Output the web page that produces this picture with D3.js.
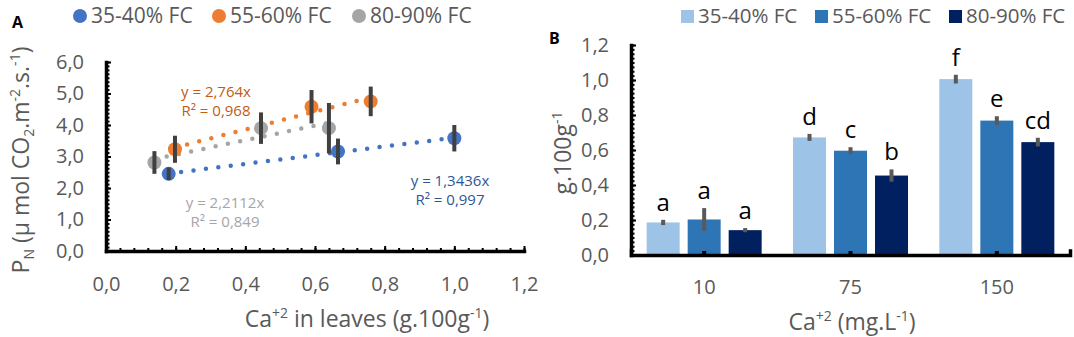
<!DOCTYPE html>
<html>
<head>
<meta charset="utf-8">
<script src="https://cdn.jsdelivr.net/npm/d3@7"></script>
<style>
  body { margin: 0; background: #fff; }
  svg { font-family: "Open Sans", sans-serif; }
</style>
</head>
<body>
<svg width="1074" height="337"></svg>
<script>
// ---- data: panel A (scatter + trend lines) ----
const seriesA = ["35-40% FC", "55-60% FC", "80-90% FC"];
const colorsA = ["#4472C4", "#ED7D31", "#A5A5A5"];
const labelColorsA = ["#2F5597", "#C55A11", "#A5A5A5"];
const xBlue = [0.18, 0.666, 1.0];
const yBlue = [2.45, 3.16, 3.58];
const eBlue = [0.2, 0.41, 0.42];
const xOrange = [0.198, 0.59, 0.76];
const yOrange = [3.23, 4.58, 4.75];
const eOrange = [0.43, 0.53, 0.47];
const xGray = [0.139, 0.445, 0.64];
const yGray = [2.81, 3.9, 3.9];
const eGray = [0.36, 0.5, 0.8];
const eqText = ["y = 1,3436x", "y = 2,764x", "y = 2,2112x"];
const r2Text = ["R² = 0,997", "R² = 0,968", "R² = 0,849"];

// ---- data: panel B (grouped bars) ----
const groupsB = ["10", "75", "150"];
const seriesB = ["35-40% FC", "55-60% FC", "80-90% FC"];
const colorsB = ["#9DC3E6", "#2E75B6", "#002060"];
const v35 = [0.186, 0.672, 1.005];
const v55 = [0.203, 0.596, 0.768];
const v80 = [0.142, 0.454, 0.645];
const e35 = [0.015, 0.02, 0.025];
const e55 = [0.065, 0.02, 0.025];
const e80 = [0.012, 0.035, 0.025];
const letters35 = ["a", "d", "f"];
const letters55 = ["a", "c", "e"];
const letters80 = ["a", "b", "cd"];

const svg = d3.select("svg");
const loc = d3.formatLocale({decimal: ",", thousands: ".", grouping: [3], currency: ["", ""]});
const f1 = loc.format(".1f");
const gray = "#595959";
const tickFont = 20, titleFont = 23, supFont = 14;

// ================= Panel A =================
const xA = d3.scaleLinear().domain([0, 1.2]).range([106, 524]);
const yA = d3.scaleLinear().domain([0, 6]).range([251, 62]);

// minor ticks
svg.append("g").attr("transform", "translate(0,251)")
    .call(d3.axisBottom(xA).tickValues(d3.range(0, 1.2001, 0.04)).tickSize(-3).tickFormat("").tickSizeOuter(0))
    .call(g => g.select(".domain").remove());
svg.append("g").attr("transform", "translate(106,0)")
    .call(d3.axisLeft(yA).tickValues(d3.range(0, 6.001, 0.125)).tickSize(-3.5).tickFormat("").tickSizeOuter(0))
    .call(g => g.select(".domain").remove());
// major ticks + labels
svg.append("g").attr("transform", "translate(0,251)")
    .call(d3.axisBottom(xA).ticks(6).tickSize(-5).tickPadding(26).tickFormat(f1).tickSizeOuter(0))
    .call(g => g.select(".domain").attr("stroke-width", 3.5).attr("stroke-linecap", "square"))
    .call(g => g.selectAll("text").attr("font-size", tickFont).attr("fill", gray).attr("font-family", "Open Sans"));
svg.append("g").attr("transform", "translate(106,0)")
    .call(d3.axisLeft(yA).ticks(6).tickSize(-5).tickPadding(22).tickFormat(f1).tickSizeOuter(0))
    .call(g => g.select(".domain").attr("stroke-width", 3.5).attr("stroke-linecap", "square"))
    .call(g => g.selectAll("text").attr("font-size", tickFont).attr("fill", gray).attr("font-family", "Open Sans"));
svg.selectAll(".tick line").attr("stroke-width", 2);

const dataA = [
  {xs: xBlue, ys: yBlue, es: eBlue},
  {xs: xOrange, ys: yOrange, es: eOrange},
  {xs: xGray, ys: yGray, es: eGray}
];

// linear trend lines (least squares)
function fit(xs, ys) {
  const mx = d3.mean(xs), my = d3.mean(ys);
  const b = d3.sum(xs, (x, i) => (x - mx) * (ys[i] - my)) / d3.sum(xs, x => (x - mx) ** 2);
  return x => my + b * (x - mx);
}
dataA.forEach((s, k) => {
  const f = fit(s.xs, s.ys);
  const x0 = d3.min(s.xs), x1 = d3.max(s.xs);
  svg.append("line")
    .attr("x1", xA(x0)).attr("y1", yA(f(x0)))
    .attr("x2", xA(x1)).attr("y2", yA(f(x1)))
    .attr("stroke", colorsA[k]).attr("stroke-width", 4.5)
    .attr("stroke-linecap", "round").attr("stroke-dasharray", "0,12.5");
});
dataA.forEach((s, k) => {
  svg.append("g").selectAll("circle").data(s.xs).join("circle")
    .attr("cx", d => xA(d)).attr("cy", (d, i) => yA(s.ys[i]))
    .attr("r", 7).attr("fill", colorsA[k]);
});
dataA.forEach((s, k) => {
  svg.append("g").selectAll("line").data(s.xs).join("line")
    .attr("x1", d => xA(d)).attr("x2", d => xA(d))
    .attr("y1", (d, i) => yA(s.ys[i] - s.es[i]))
    .attr("y2", (d, i) => yA(s.ys[i] + s.es[i]))
    .attr("stroke", "#404040").attr("stroke-width", 4);
});

// equation labels
const eqPos = [[450, 181], [216, 92], [225, 203]];
eqPos.forEach((p, k) => {
  svg.append("text").attr("text-anchor", "middle").attr("font-size", 15)
    .attr("fill", labelColorsA[k]).attr("x", p[0]).attr("y", p[1] + 5).text(eqText[k]);
  svg.append("text").attr("text-anchor", "middle").attr("font-size", 15)
    .attr("fill", labelColorsA[k]).attr("x", p[0]).attr("y", p[1] + 24).text(r2Text[k]);
});

// legend A
const legA = [80, 219, 359];
seriesA.forEach((s, k) => {
  svg.append("circle").attr("cx", legA[k]).attr("cy", 16).attr("r", 7).attr("fill", colorsA[k]);
  svg.append("text").attr("x", legA[k] + 11).attr("y", 23).attr("font-size", 21)
    .attr("fill", gray).text(s);
});

svg.append("text").attr("x", 12).attr("y", 28).attr("font-size", 16).attr("font-weight", "bold").text("A");

// axis titles A
const ytA = svg.append("text").attr("transform", "translate(29,160) rotate(-90)")
  .attr("text-anchor", "middle").attr("font-size", titleFont).attr("fill", gray);
ytA.append("tspan").text("P");
ytA.append("tspan").attr("font-size", supFont).attr("dy", 5).text("N");
ytA.append("tspan").attr("dy", -5).text(" (µ mol CO");
ytA.append("tspan").attr("font-size", supFont).attr("dy", 5).text("2");
ytA.append("tspan").attr("dy", -5).text(".m");
ytA.append("tspan").attr("font-size", supFont).attr("dy", -9).text("-2");
ytA.append("tspan").attr("dy", 9).text(".s.");
ytA.append("tspan").attr("font-size", supFont).attr("dy", -9).text("-1");
ytA.append("tspan").attr("dy", 9).text(")");

const xtA = svg.append("text").attr("x", 367).attr("y", 327)
  .attr("text-anchor", "middle").attr("font-size", titleFont).attr("fill", gray);
xtA.append("tspan").text("Ca");
xtA.append("tspan").attr("font-size", supFont).attr("dy", -9).text("+2");
xtA.append("tspan").attr("dy", 9).text(" in leaves (g.100g");
xtA.append("tspan").attr("font-size", supFont).attr("dy", -9).text("-1");
xtA.append("tspan").attr("dy", 9).text(")");

// ================= Panel B =================
const x0B = d3.scaleBand().domain(groupsB).range([631, 1070]);
const x1B = d3.scaleBand().domain(seriesB).range([-57.5, 57.5]).paddingInner(8 / 41);
const yB = d3.scaleLinear().domain([0, 1.2]).range([255, 45]);

svg.append("g").attr("transform", "translate(631,0)")
    .call(d3.axisLeft(yB).tickValues(d3.range(0, 1.2001, 0.025)).tickSize(-3.5).tickFormat("").tickSizeOuter(0))
    .call(g => g.select(".domain").remove())
    .call(g => g.selectAll(".tick line").attr("stroke-width", 2));

const valsB = [v35, v55, v80];
const errsB = [e35, e55, e80];
const lettersB = [letters35, letters55, letters80];

valsB.forEach((vals, k) => {
  const g = svg.append("g");
  g.selectAll("rect").data(groupsB).join("rect")
    .attr("x", (d) => x0B(d) + x0B.bandwidth() / 2 + x1B(seriesB[k]))
    .attr("y", (d, i) => yB(vals[i]))
    .attr("width", x1B.bandwidth())
    .attr("height", (d, i) => yB(0) - yB(vals[i]))
    .attr("fill", colorsB[k]);
});
valsB.forEach((vals, k) => {
  const cx = d => x0B(d) + x0B.bandwidth() / 2 + x1B(seriesB[k]) + x1B.bandwidth() / 2;
  svg.append("g").selectAll("line").data(groupsB).join("line")
    .attr("x1", cx).attr("x2", cx)
    .attr("y1", (d, i) => yB(vals[i] - errsB[k][i]))
    .attr("y2", (d, i) => yB(vals[i] + errsB[k][i]))
    .attr("stroke", "#595959").attr("stroke-width", 4);
  svg.append("g").selectAll("text").data(groupsB).join("text")
    .attr("x", cx).attr("y", (d, i) => yB(vals[i] + errsB[k][i]) - 9)
    .attr("text-anchor", "middle").attr("font-size", 24).attr("fill", "#000")
    .text((d, i) => lettersB[k][i]);
});

// axes B
svg.append("g").attr("transform", "translate(0,255)")
    .call(d3.axisBottom(x0B).tickSize(-4).tickPadding(25).tickSizeOuter(-4))
    .call(g => g.select(".domain").attr("stroke-width", 3.5).attr("stroke-linecap", "square"))
    .call(g => g.selectAll(".tick line").attr("stroke-width", 4))
    .call(g => g.selectAll("text").attr("font-size", tickFont).attr("fill", gray).attr("font-family", "Open Sans"));
svg.append("g").attr("transform", "translate(631,0)")
    .call(d3.axisLeft(yB).tickValues(d3.range(0, 1.2001, 0.2)).tickSize(-5).tickPadding(22).tickFormat(f1).tickSizeOuter(0))
    .call(g => g.select(".domain").attr("stroke-width", 3.5).attr("stroke-linecap", "square"))
    .call(g => g.selectAll(".tick line").attr("stroke-width", 2))
    .call(g => g.selectAll("text").attr("font-size", tickFont).attr("fill", gray).attr("font-family", "Open Sans"));

// legend B
const legB = [681, 815, 949];
seriesB.forEach((s, k) => {
  svg.append("rect").attr("x", legB[k]).attr("y", 10).attr("width", 13).attr("height", 13).attr("fill", colorsB[k]);
  svg.append("text").attr("x", legB[k] + 17).attr("y", 23).attr("font-size", 20.5)
    .attr("fill", gray).text(s);
});

svg.append("text").attr("x", 549).attr("y", 44).attr("font-size", 16).attr("font-weight", "bold").text("B");

const ytB = svg.append("text").attr("transform", "translate(571,153) rotate(-90)")
  .attr("text-anchor", "middle").attr("font-size", titleFont).attr("fill", gray);
ytB.append("tspan").text("g.100g");
ytB.append("tspan").attr("font-size", supFont).attr("dy", -9).text("-1");

const xtB = svg.append("text").attr("x", 852).attr("y", 330)
  .attr("text-anchor", "middle").attr("font-size", titleFont).attr("fill", gray);
xtB.append("tspan").text("Ca");
xtB.append("tspan").attr("font-size", supFont).attr("dy", -9).text("+2");
xtB.append("tspan").attr("dy", 9).text(" (mg.L");
xtB.append("tspan").attr("font-size", supFont).attr("dy", -9).text("-1");
xtB.append("tspan").attr("dy", 9).text(")");
</script>
</body>
</html>
